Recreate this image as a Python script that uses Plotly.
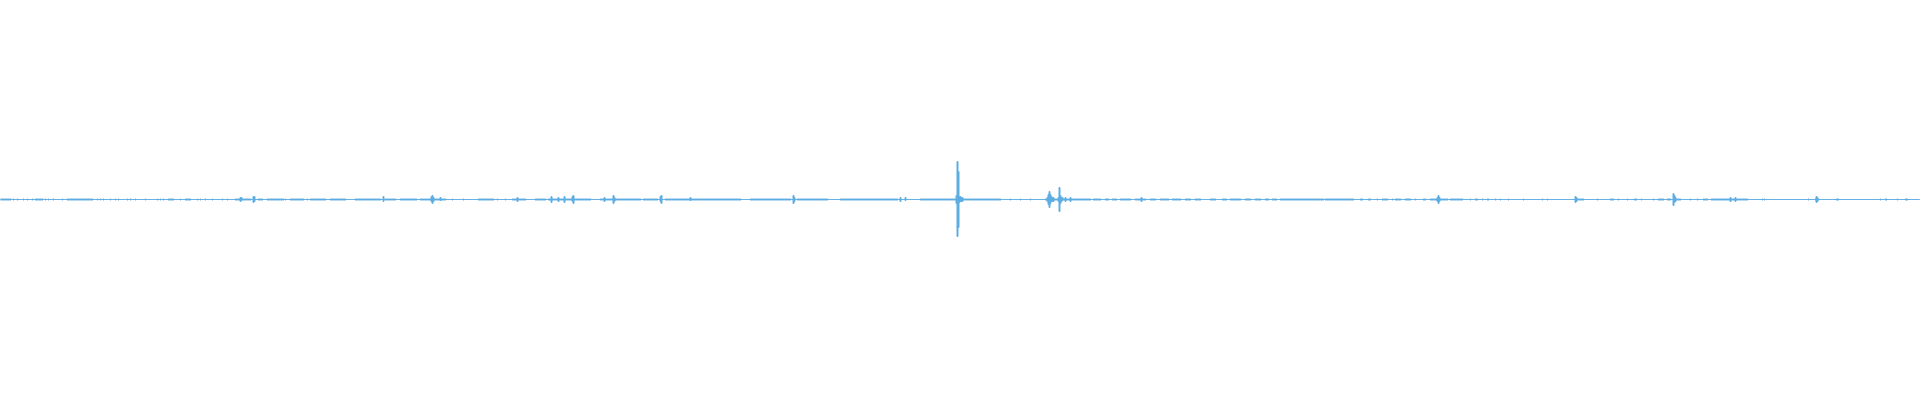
import numpy as np
import plotly.graph_objects as go

# Waveform resolution (one peak bin per column)
n_bins = 1920

# Low-level noise clusters: (start_bin, end_bin), small amplitude
noise_start = [0, 13, 17, 23, 27, 32, 35, 45, 48, 53, 62, 67, 97, 100, 103, 110, 115, 118, 127, 130,
               135, 145, 157, 160, 163, 168, 180, 185, 197, 200, 205, 212, 222, 227, 235, 258, 267, 285,
               290, 307, 310, 330, 355, 385, 400, 420, 452, 463, 478, 497, 505, 512, 535, 548, 600, 643,
               665, 750, 797, 840, 920, 963, 1010, 1020, 1030, 1045, 1093, 1105, 1112, 1120, 1135, 1150,
               1160, 1172, 1185, 1195, 1210, 1222, 1230, 1245, 1255, 1265, 1272, 1280, 1288, 1325, 1360,
               1368, 1377, 1382, 1392, 1395, 1405, 1415, 1423, 1430, 1450, 1470, 1475, 1482, 1487, 1495,
               1500, 1508, 1523, 1542, 1547, 1575, 1597, 1610, 1618, 1627, 1634, 1641, 1653, 1658, 1667,
               1673, 1690, 1697, 1703, 1711, 1762, 1764, 1808, 1815, 1836, 1880, 1885, 1897, 1905]
noise_end = [10, 13, 17, 23, 27, 32, 42, 45, 48, 53, 62, 92, 97, 100, 103, 110, 115, 118, 127, 130,
             135, 145, 157, 160, 163, 173, 180, 190, 197, 200, 205, 212, 222, 227, 250, 262, 283, 285,
             303, 307, 325, 345, 380, 395, 416, 445, 452, 463, 493, 497, 505, 525, 545, 590, 640, 657,
             740, 790, 827, 897, 956, 1000, 1010, 1020, 1030, 1090, 1100, 1108, 1116, 1130, 1145, 1155,
             1168, 1180, 1190, 1200, 1215, 1226, 1240, 1250, 1260, 1268, 1276, 1287, 1323, 1353, 1362,
             1370, 1377, 1387, 1392, 1400, 1410, 1415, 1425, 1447, 1462, 1470, 1477, 1482, 1488, 1495,
             1500, 1508, 1523, 1542, 1547, 1583, 1597, 1613, 1618, 1627, 1636, 1641, 1653, 1663, 1670,
             1680, 1690, 1697, 1707, 1747, 1762, 1764, 1808, 1818, 1838, 1880, 1886, 1897, 1907]
noise_amp = 0.0025

# Distinct transients: bin, positive peak, negative peak
peak_bin = [240, 241, 253, 254, 383, 431, 432, 433, 440, 517, 551, 558, 564, 572, 573, 604, 613, 614,
            660, 661, 690, 793, 794, 900, 905, 956, 957, 958, 959, 960, 961, 962, 1047, 1048, 1049,
            1050, 1051, 1052, 1053, 1058, 1059, 1060, 1061, 1062, 1065, 1070, 1141, 1437, 1438, 1439,
            1575, 1576, 1673, 1674, 1675, 1730, 1735, 1816, 1817]
peak_max = [0.010, 0.010, 0.015, 0.015, 0.015, 0.015, 0.020, 0.010, 0.010, 0.010, 0.015, 0.010, 0.015,
            0.015, 0.020, 0.010, 0.020, 0.010, 0.015, 0.020, 0.010, 0.020, 0.010, 0.010, 0.010, 0.020,
            0.190, 0.140, 0.015, 0.015, 0.010, 0.010, 0.010, 0.025, 0.040, 0.025, 0.015, 0.010, 0.010,
            0.010, 0.060, 0.020, 0.010, 0.010, 0.010, 0.010, 0.010, 0.010, 0.020, 0.010, 0.015, 0.010,
            0.030, 0.020, 0.010, 0.010, 0.010, 0.015, 0.010]
peak_min = [-0.010, -0.005, -0.015, -0.010, -0.010, -0.010, -0.020, -0.010, -0.005, -0.010, -0.015,
            -0.010, -0.015, -0.010, -0.020, -0.010, -0.020, -0.010, -0.010, -0.020, -0.005, -0.020,
            -0.010, -0.010, -0.005, -0.020, -0.185, -0.140, -0.015, -0.010, -0.010, -0.010, -0.010,
            -0.025, -0.040, -0.020, -0.010, -0.010, -0.010, -0.010, -0.060, -0.020, -0.010, -0.005,
            -0.010, -0.010, -0.010, -0.010, -0.020, -0.010, -0.015, -0.010, -0.030, -0.015, -0.010,
            -0.010, -0.010, -0.015, -0.010]

wave_color = "#5DADE2"

bins = np.arange(n_bins)
env_max = np.zeros(n_bins)
env_min = np.zeros(n_bins)
for s, e in zip(noise_start, noise_end):
    env_max[s:e + 1] = noise_amp
    env_min[s:e + 1] = -noise_amp
for b, hi, lo in zip(peak_bin, peak_max, peak_min):
    env_max[b] = hi
    env_min[b] = lo

fig = go.Figure()
fig.add_trace(go.Scatter(x=bins, y=env_max, mode="lines", line=dict(color=wave_color, width=1, shape="hvh"),
                         hoverinfo="skip", showlegend=False))
fig.add_trace(go.Scatter(x=bins, y=env_min, mode="lines", line=dict(color=wave_color, width=1, shape="hvh"),
                         fill="tonexty", fillcolor=wave_color, hoverinfo="skip", showlegend=False))

fig.update_layout(
    width=1920, height=400,
    margin=dict(l=0, r=0, t=0, b=0),
    paper_bgcolor="white", plot_bgcolor="white",
    xaxis=dict(range=[-0.5, n_bins - 0.5], visible=False, fixedrange=True),
    yaxis=dict(range=[-1.0025, 0.9975], visible=False, fixedrange=True),
)
fig.write_html("out.html", config={"displayModeBar": False},
               post_script="document.body.style.margin='0';document.body.style.overflow='hidden';")
